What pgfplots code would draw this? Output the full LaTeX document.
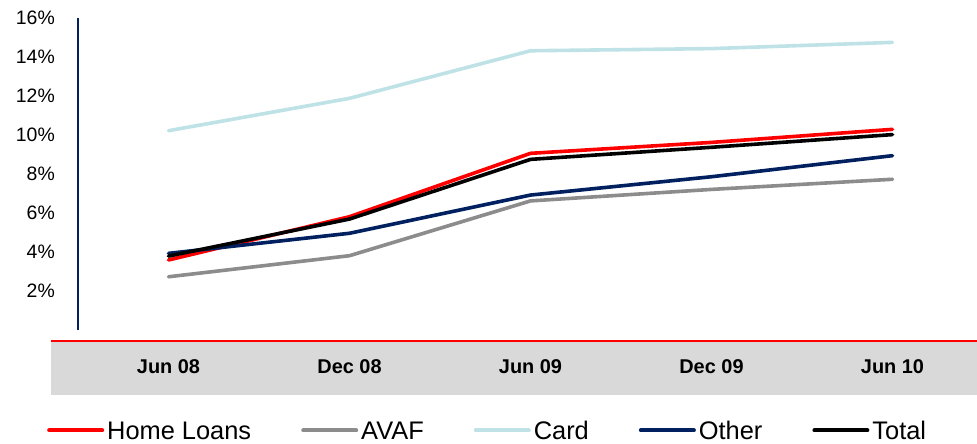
\documentclass[border=0pt]{standalone}
\usepackage{pgfplots}
\pgfplotsset{compat=1.18}
\usepackage{fontspec}
\setmainfont{Liberation Sans}
\definecolor{cardc}{HTML}{BFE2E6}
\definecolor{navyc}{HTML}{002060}
\definecolor{greyc}{HTML}{8C8C8C}
\definecolor{bandc}{HTML}{D9D9D9}
\begin{document}
\begin{tikzpicture}
\useasboundingbox (0,0) rectangle (977bp,-444bp);
\fill[bandc] (51bp,-342bp) rectangle (977bp,-395bp);
\draw[red, line width=2.5bp] (51bp,-341bp) -- (977bp,-341bp);
\begin{axis}[
  at={(78bp,-330bp)}, anchor=south west,
  scale only axis, width=899bp, height=312bp,
  xmin=-0.5, xmax=4.467, ymin=0, ymax=16,
  axis lines*=left,
  x axis line style={draw=none},
  y axis line style={draw=navyc, line width=1.3bp},
  major tick length=0pt,
  /pgf/number format/assume math mode=true,
  xtick={0,...,4},
  xticklabels={Jun 08, Dec 08, Jun 09, Dec 09, Jun 10},
  xticklabel style={anchor=center, yshift=-37bp, font=\bfseries\fontsize{20}{20}\selectfont},
  ytick={2,4,...,16},
  yticklabel={\pgfmathprintnumber{\tick}\%},
  yticklabel style={anchor=east, inner sep=0pt, xshift=-23bp, font=\fontsize{19.5}{19.5}\selectfont},
  legend columns=5,
  legend image code/.code={\draw[#1, line width=4bp] (0bp,0bp) -- (53bp,0bp);},
  legend style={draw=none, fill=none, inner sep=0pt, at={(-0.0345,-0.322)}, anchor=west,
    font=\fontsize{25.5}{25.5}\selectfont, nodes={inner xsep=3bp, inner ysep=0pt, text depth=0pt},
    /tikz/every even column/.append style={column sep=47bp}},
  every axis plot/.append style={line width=3.6bp, line join=round, line cap=round},
]
\addplot[red] coordinates {(0,3.59) (1,5.81) (2,9.06) (3,9.62) (4,10.29)};
\addlegendentry{Home Loans}
\addplot[greyc] coordinates {(0,2.73) (1,3.81) (2,6.62) (3,7.21) (4,7.73)};
\addlegendentry{AVAF}
\addplot[cardc] coordinates {(0,10.22) (1,11.88) (2,14.32) (3,14.43) (4,14.75)};
\addlegendentry{Card}
\addplot[navyc] coordinates {(0,3.93) (1,4.96) (2,6.92) (3,7.86) (4,8.94)};
\addlegendentry{Other}
\addplot[black] coordinates {(0,3.79) (1,5.69) (2,8.75) (3,9.37) (4,10.02)};
\addlegendentry{Total}
\end{axis}
\end{tikzpicture}
\end{document}
